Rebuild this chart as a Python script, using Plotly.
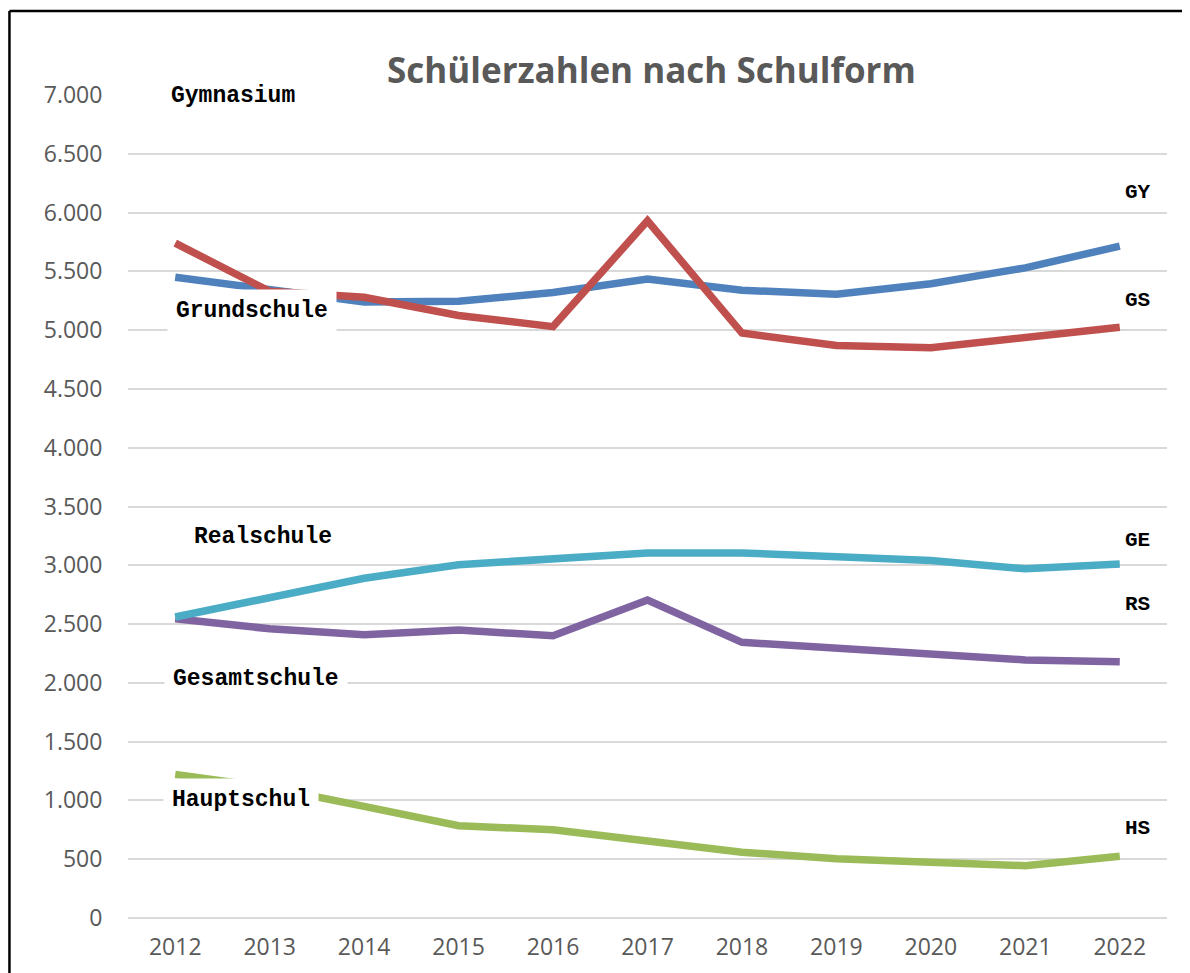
import plotly.graph_objects as go

years = [2012, 2013, 2014, 2015, 2016, 2017, 2018, 2019, 2020, 2021, 2022]

gy = [5450, 5345, 5240, 5245, 5320, 5435, 5340, 5305, 5395, 5530, 5715]
gs = [5740, 5330, 5280, 5125, 5030, 5930, 4975, 4870, 4850, 4940, 5025]
rs = [2545, 2460, 2410, 2450, 2400, 2705, 2345, 2300, 2250, 2195, 2180]
ge = [2560, 2730, 2890, 3005, 3055, 3105, 3105, 3065, 3040, 2970, 3010]
hs = [1220, 1110, 950, 785, 750, 660, 560, 505, 470, 445, 525]

series = [
    ("GY", gy, "#4f81bd"),
    ("GS", gs, "#c0504d"),
    ("RS", rs, "#8064a2"),
    ("GE", ge, "#4bacc6"),
    ("HS", hs, "#9bbb59"),
]

left_labels = ["Gymnasium", "Grundschule", "Realschule", "Gesamtschule", "Hauptschul"]
left_x = [2012.61, 2012.81, 2012.93, 2012.85, 2012.70]
left_y = [6990, 5165, 3240, 2035, 1005]
left_bg = ["white", "white", "rgba(0,0,0,0)", "white", "white"]

right_labels = ["GY", "GS", "GE", "RS", "HS"]
right_x = 2022.19
right_y = [6175, 5250, 3215, 2670, 765]

title_text = "Schülerzahlen nach Schulform"

fig = go.Figure()
for name, vals, color in series:
    fig.add_trace(go.Scatter(
        x=years, y=vals, name=name, mode="lines",
        line=dict(color=color, width=7.5),
        showlegend=False, hoverinfo="x+y+name",
    ))

annotations = []
for txt, x, y, bg in zip(left_labels, left_x, left_y, left_bg):
    annotations.append(dict(
        x=x, y=y, xref="x", yref="y", text="<b>" + txt + "</b>",
        showarrow=False, bgcolor=bg, borderpad=8,
        font=dict(family="Liberation Mono", size=23, color="black"),
    ))
for txt, y in zip(right_labels, right_y):
    annotations.append(dict(
        x=right_x, y=y, xref="x", yref="y", text="<b>" + txt + "</b>",
        showarrow=False,
        font=dict(family="Liberation Mono", size=21, color="black"),
    ))
annotations.append(dict(
    x=0.504, y=1.031, xref="paper", yref="paper", text="<b>" + title_text + "</b>",
    showarrow=False, xanchor="center", yanchor="middle",
    font=dict(family="Open Sans", size=35, color="#595959"),
))

border = dict(color="black", width=2.5)
fig.update_layout(
    width=1182, height=965,
    margin=dict(l=120, r=23, t=87, b=55),
    paper_bgcolor="white", plot_bgcolor="white",
    separators=",.",
    annotations=annotations,
    shapes=[
        dict(type="line", xref="paper", yref="paper",
             x0=-0.1141, x1=1.1, y0=1.1021, y1=1.1021, line=border, layer="below"),
        dict(type="line", xref="paper", yref="paper",
             x0=-0.1141, x1=-0.1141, y0=-0.15, y1=1.1021, line=border, layer="below"),
    ],
)

fig.update_xaxes(
    range=[2011.5, 2022.5], tickmode="array", tickvals=years,
    ticktext=[str(y) for y in years],
    showgrid=False, zeroline=False, showline=False,
    ticks="outside", ticklen=8, tickcolor="rgba(0,0,0,0)",
    tickfont=dict(family="Open Sans", size=23, color="#595959"),
)
fig.update_yaxes(
    range=[0, 7000], dtick=500, tickformat=",d",
    showgrid=True, gridcolor="#d9d9d9", gridwidth=1.5,
    zeroline=True, zerolinecolor="#d9d9d9", zerolinewidth=1.5,
    showline=False,
    ticks="outside", ticklen=20, tickcolor="rgba(0,0,0,0)",
    tickfont=dict(family="Open Sans", size=23, color="#595959"),
)

fig.write_html(
    "out.html",
    post_script="document.documentElement.style.overflow='hidden';document.body.style.overflow='hidden';",
)
